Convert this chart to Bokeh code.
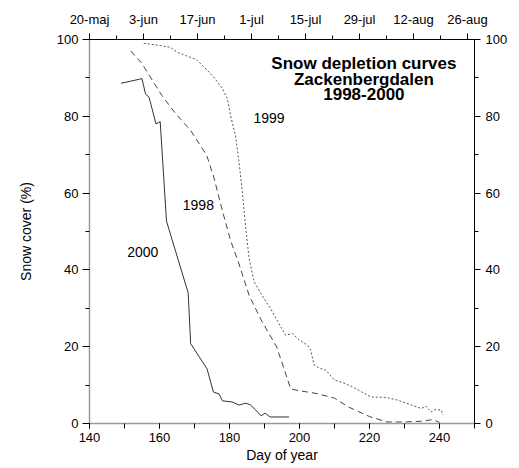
from bokeh.plotting import figure
from bokeh.models import LinearAxis, Range1d, FixedTicker, SingleIntervalTicker, Label
from bokeh.embed import file_html
from bokeh.resources import INLINE

# ---- data ----
d1998 = [151.8, 155, 160.7, 164.6, 168.9, 173.5, 175.5, 178, 180.3, 182.7, 185.6, 188.9,
         193.5, 197.5, 199.5, 205, 210, 214, 220, 225, 230, 235, 238, 240]
v1998 = [97.0, 93.7, 85.4, 80.7, 76.3, 69.8, 64.2, 55.3, 47.7, 41.6, 33.4, 27.2,
         19.9, 9.0, 8.6, 7.8, 6.6, 4.3, 1.8, 0.4, 0.4, 0.6, 1.0, 0.3]

d1999 = [155.5, 159, 163, 165, 167.5, 170.5, 173, 175.5, 178, 179.4, 180.3, 181.7, 182.7,
         183.7, 184.6, 185.6, 187, 189, 191.8, 196, 198, 200, 202.3, 203.2, 204.2, 206,
         207.5, 210, 212.5, 215, 220.4, 224.7, 228, 232, 234.8, 236.2, 237.6, 238.6, 240.5, 241]
v1999 = [99.0, 98.6, 98.0, 96.7, 95.8, 94.8, 92.6, 90.2, 87.2, 84.6, 80.2, 75.0, 68.3,
         60.0, 51.2, 43.0, 37.0, 33.8, 29.8, 23.0, 23.4, 21.7, 20.4, 19.1, 15.2, 14.3,
         13.9, 11.3, 10.6, 9.6, 6.9, 6.8, 6.1, 4.8, 3.9, 4.5, 3.0, 3.6, 3.5, 2.2]

d2000 = [149, 155, 156, 157, 159, 160.2, 162, 168.2, 168.9, 173.6, 175.4, 177, 178,
         180.8, 182.7, 184.7, 186, 187.5, 189, 190.2, 191.6, 197]
v2000 = [88.6, 89.8, 85.8, 85.0, 78.0, 78.6, 52.7, 34.0, 20.8, 14.2, 8.2, 7.7, 5.9,
         5.6, 4.8, 5.3, 4.8, 3.5, 2.0, 2.7, 1.7, 1.7]

top_days = [140, 154, 168, 182, 196, 210, 224, 238]
top_labels = ["20-maj", "3-jun", "17-jun", "1-jul", "15-jul", "29-jul", "12-aug", "26-aug"]
top_minor = [147, 161, 175, 189, 203, 217, 231]

series_names = ["1998", "1999", "2000"]
title_lines = ["Snow depletion curves", "Zackenbergdalen", "1998-2000"]

FONT = "Liberation Sans"

p = figure(width=519, height=468, x_range=Range1d(140, 250), y_range=Range1d(0, 100),
           output_backend="svg", toolbar_location=None,
           min_border_left=89, min_border_right=45, min_border_top=39, min_border_bottom=45)
p.grid.visible = False
p.outline_line_color = None
p.background_fill_color = "white"
p.border_fill_color = "white"


def style_axis(ax, line_color="black", line_width=1):
    ax.axis_line_color = line_color
    ax.axis_line_width = line_width
    ax.major_tick_line_color = "black"
    ax.minor_tick_line_color = "black"
    ax.major_tick_in = 0
    ax.minor_tick_in = 0
    ax.major_label_text_font = FONT
    ax.major_label_text_font_size = "13px"
    ax.major_label_text_color = "black"
    ax.axis_label_text_font = FONT
    ax.axis_label_text_font_size = "14px"
    ax.axis_label_text_font_style = "normal"
    ax.axis_label_text_color = "black"


# bottom axis
xa = p.xaxis[0]
xa.ticker = SingleIntervalTicker(interval=20, num_minor_ticks=2)
style_axis(xa, "#9a9a9a", 1.5)
xa.major_tick_out = 5
xa.minor_tick_out = 5
xa.major_label_standoff = 4
xa.axis_label = "Day of year"
xa.axis_label_standoff = 2

# left axis
ya = p.yaxis[0]
ya.ticker = SingleIntervalTicker(interval=20, num_minor_ticks=2)
style_axis(ya, "#9a9a9a", 1.5)
ya.major_tick_out = 7
ya.minor_tick_out = 4
ya.major_label_standoff = 4
ya.axis_label = "Snow cover (%)"
ya.axis_label_standoff = 20

# right axis
ra = LinearAxis(ticker=SingleIntervalTicker(interval=20, num_minor_ticks=2))
style_axis(ra)
ra.major_tick_out = 6
ra.minor_tick_out = 4
ra.major_label_standoff = 5
p.add_layout(ra, "right")

# top date axis
p.extra_x_ranges = {"top": Range1d(140, 239.8)}
ta = LinearAxis(x_range_name="top",
                ticker=FixedTicker(ticks=top_days, minor_ticks=top_minor),
                major_label_overrides={d: s for d, s in zip(top_days, top_labels)})
style_axis(ta)
ta.major_tick_out = 6
ta.minor_tick_out = 4
ta.major_label_standoff = 7
p.add_layout(ta, "above")

# curves
p.line(d1998, v1998, line_color="#444444", line_width=1, line_dash="6 4")
p.line(d1999, v1999, line_color="#555555", line_width=1, line_dash="2 2")
p.line(d2000, v2000, line_color="#333333", line_width=1)

# series labels
for name, (lx, ly) in zip(series_names, [(171.1, 56.9), (191.3, 79.6), (155.2, 44.6)]):
    p.add_layout(Label(x=lx, y=ly, text=name, text_font=FONT, text_font_size="14px",
                       text_align="center", text_baseline="middle", text_color="black"))

# in-plot title
for line, ty in zip(title_lines, [93.8, 89.7, 85.7]):
    p.add_layout(Label(x=218.4, y=ty, text=line, text_font=FONT, text_font_size="17px",
                       text_font_style="bold", text_align="center", text_baseline="middle",
                       text_color="black"))

open("out.html", "w").write(file_html(p, INLINE))
